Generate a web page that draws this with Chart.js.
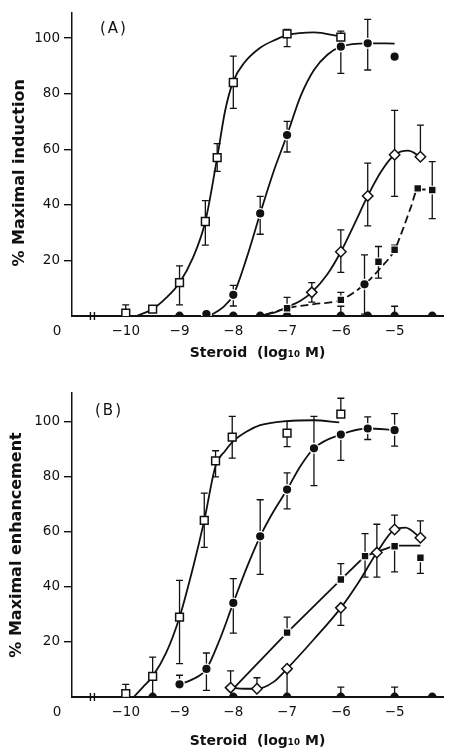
<!DOCTYPE html>
<html>
<head>
<meta charset="utf-8">
<script src="https://cdn.jsdelivr.net/npm/chart.js@4.4.1/dist/chart.umd.min.js"></script>
<style>
  html, body { margin: 0; padding: 0; background: #fff; }
  canvas { display: block; }
</style>
</head>
<body>
<canvas id="chartA" width="450" height="376"></canvas>
<canvas id="chartB" width="450" height="376"></canvas>
<script>
// axis ticks
const xTicks = [-10, -9, -8, -7, -6, -5];
const yTicks = [20, 40, 60, 80, 100];

// (A) induction - measured points, error bars as [low, high]
const aOpenSqX = [-10, -9.5, -9, -8.52, -8.3, -8, -7, -6];
const aOpenSqY = [1, 2.5, 12, 34, 57, 84, 101.5, 100.3];
const aOpenSqErr = [[1, 4], null, [4, 18], [25.5, 41.5], [52, 62], [74.7, 93.5], [96.9, 103.1], [100.3, 102.5]];

const aDotX = [-8.5, -8, -7.5, -7, -6, -5.5, -5];
const aDotY = [0.7, 7.6, 36.9, 65.1, 96.9, 98.1, 93.3];
const aDotErr = [null, [3.6, 11], [29.4, 43], [59, 70], [87.3, 96.9], [88.5, 106.7], null];

const aDiaX = [-6.54, -6, -5.5, -5, -4.52];
const aDiaY = [8.5, 23.1, 43.2, 58, 57.3];
const aDiaErr = [[5, 12], [15.7, 31], [32.4, 55], [43, 74], [57.3, 68.7]];

const aSqX = [-7, -6, -5.3, -5, -4.57, -4.3];
const aSqY = [2.8, 5.8, 19.5, 23.8, 45.9, 45.3];
const aSqErr = [[2.8, 6.7], [5.8, 8.5], [13.6, 25], [23.8, 25.5], null, [35, 55.5]];

const aDot2X = [-5.56];
const aDot2Y = [11.4];
const aDot2Err = [[0.7, 22]];

const aBaseX = [-9, -8, -7.5, -7, -6, -5.5, -5, -4.3];
const aBaseY = [0, 0, 0, 0, 0, 0, 0, 0];
const aBaseErr = [null, null, null, null, [0, 3.5], null, [0, 3.5], null];

// (A) fitted curves
const aOpenSqFitX = [-9.8, -9.5, -9.25, -9, -8.75, -8.52, -8.3, -8.15, -8, -7.8, -7.5, -7.2, -7, -6.5, -6];
const aOpenSqFitY = [0, 2.5, 6.5, 12, 21, 34, 57, 74, 84.5, 91, 96.5, 99.5, 101, 102, 100.5];
const aDotFitX = [-8.4, -8.2, -8, -7.75, -7.5, -7.25, -7, -6.75, -6.5, -6.25, -6, -5.5, -5];
const aDotFitY = [0.5, 3, 7.6, 21, 36.9, 52, 65.1, 79, 88.5, 94, 96.9, 98.1, 98];
const aDiaFitX = [-7.5, -7.2, -7, -6.75, -6.54, -6.25, -6, -5.75, -5.5, -5.25, -5, -4.75, -4.52];
const aDiaFitY = [0, 1.5, 3.2, 5.5, 8.5, 15, 23.1, 33, 43.2, 52, 58, 59.5, 57.3];
const aSqFitX = [-7.4, -7, -6.5, -6, -5.56, -5.25, -5, -4.85, -4.7, -4.57, -4.3];
const aSqFitY = [0.5, 2.8, 4.3, 5.8, 11.4, 17.5, 23.8, 31, 39, 45.5, 45.5];

// (B) enhancement - measured points
const bOpenSqX = [-10, -9.5, -9, -8.54, -8.33, -8.02, -7, -6];
const bOpenSqY = [1.2, 7.5, 29, 64.2, 85.8, 94.5, 95.9, 102.8];
const bOpenSqErr = [[1.2, 4.6], [0, 14.5], [12.1, 42.4], [54.4, 74.1], [80, 89.5], [86.8, 102], [91, 100.2], [102.8, 108.6]];

const bDotX = [-9, -8.5, -8, -7.5, -7, -6.5, -6, -5.5, -5];
const bDotY = [4.6, 10.2, 34.2, 58.4, 75.4, 90.4, 95.4, 97.6, 97];
const bDotErr = [[4.6, 7.9], [2.4, 16], [23.2, 43], [44.6, 71.7], [68.4, 81.5], [76.8, 102], [86, 95.4], [93.6, 101.8], [91.2, 103]];

const bSqX = [-7, -6, -5.55, -5, -4.52];
const bSqY = [23.4, 42.7, 51.2, 54.8, 50.6];
const bSqErr = [[23.4, 29], [42.7, 48.5], [43.6, 59.4], [45.5, 54.8], [44.9, 50.6]];

const bDiaX = [-8.05, -7.56, -7, -6, -5.33, -5, -4.52];
const bDiaY = [3.4, 3, 10.3, 32.4, 52.5, 60.9, 57.9];
const bDiaErr = [[3.4, 9.5], [3, 7], [0, 10.3], [26, 32.4], [43.6, 62.8], [60.9, 66.1], [57.9, 64]];

const bBaseX = [-9.5, -8, -7, -6, -5, -4.3];
const bBaseY = [0, 0, 0, 0, 0, 0];
const bBaseErr = [null, null, null, [0, 3.6], [0, 3.6], null];

// (B) fitted curves
const bOpenSqFitX = [-9.85, -9.68, -9.5, -9.25, -9, -8.75, -8.54, -8.33, -8.15, -8, -7.75, -7.5, -7, -6.5, -6.03];
const bOpenSqFitY = [0, 3.6, 7.5, 16, 29, 47, 64.2, 84, 89.5, 93, 96.5, 98.8, 100.3, 100.6, 99.8];
const bDotFitX = [-9, -8.75, -8.5, -8.25, -8, -7.75, -7.5, -7.25, -7, -6.75, -6.5, -6, -5.5, -5];
const bDotFitY = [4.6, 6.5, 10.2, 21, 34.2, 47, 58.4, 67.5, 75.4, 84, 90.4, 95.4, 97.6, 97];
const bSqFitX = [-8, -7, -6, -5.55, -5, -4.52];
const bSqFitY = [3, 23.4, 42.7, 51.2, 55, 55];
const bDiaFitX = [-8.05, -7.8, -7.56, -7.25, -7, -6.5, -6, -5.66, -5.33, -5, -4.8, -4.52];
const bDiaFitY = [3.4, 3, 3, 5.5, 10.3, 21, 32.4, 42, 52.5, 60.9, 61.6, 57.9];

const INK = '#111';
const breakAt = -10.62;

const pts = (xs, ys) => xs.map((x, i) => ({x: x, y: ys[i]}));

// marker styles
const openSq = {pointStyle: 'rect', pointRadius: 5.5, pointBackgroundColor: '#fff', pointBorderColor: INK, pointBorderWidth: 1.5};
const dot = {pointStyle: 'circle', pointRadius: 4.8, pointBackgroundColor: INK, pointBorderColor: '#fff', pointBorderWidth: 1.4};
const dia = {pointStyle: 'rectRot', pointRadius: 5.2, pointBackgroundColor: '#fff', pointBorderColor: INK, pointBorderWidth: 1.5};
const sq = {pointStyle: 'rect', pointRadius: 5.4, pointBackgroundColor: INK, pointBorderColor: '#fff', pointBorderWidth: 1.2};
const dome = {pointStyle: 'circle', pointRadius: 4.4, pointBackgroundColor: INK, pointBorderWidth: 0, clip: 0};

function marks(xs, ys, errs, style) {
  return Object.assign({data: pts(xs, ys), errors: errs, showLine: false, order: 1}, style);
}
function fit(xs, ys, extra) {
  return Object.assign({
    data: pts(xs, ys), showLine: true, pointRadius: 0, borderColor: INK,
    borderWidth: 1.8, cubicInterpolationMode: 'monotone', order: 2
  }, extra || {});
}

const errorBars = {
  id: 'errorBars',
  beforeDatasetsDraw(chart) {
    const {ctx, scales: {x, y}} = chart;
    ctx.save();
    ctx.strokeStyle = INK;
    ctx.lineWidth = 1.3;
    chart.data.datasets.forEach(ds => {
      if (!ds.errors) return;
      ds.errors.forEach((e, i) => {
        if (!e) return;
        const p = ds.data[i];
        const px = x.getPixelForValue(p.x);
        const lo = y.getPixelForValue(e[0]);
        const hi = y.getPixelForValue(e[1]);
        ctx.beginPath();
        ctx.moveTo(px, lo);
        ctx.lineTo(px, hi);
        if (e[1] !== p.y) { ctx.moveTo(px - 3.5, hi); ctx.lineTo(px + 3.5, hi); }
        if (e[0] !== p.y && e[0] !== 0) { ctx.moveTo(px - 3.5, lo); ctx.lineTo(px + 3.5, lo); }
        ctx.stroke();
      });
    });
    ctx.restore();
  }
};

function decor(label, lx, ly) {
  return {
    id: 'decor',
    afterDraw(chart) {
      const {ctx, scales: {x, y}} = chart;
      ctx.save();
      ctx.fillStyle = INK;
      ctx.font = '13.5px "DejaVu Sans"';
      ctx.textAlign = 'center';
      ctx.textBaseline = 'middle';
      ctx.fillText('0', 57, y.bottom + 15);
      // axis break
      const bx = x.getPixelForValue(breakAt);
      ctx.strokeStyle = INK;
      ctx.lineWidth = 1.4;
      ctx.beginPath();
      ctx.moveTo(bx - 2, y.bottom - 4); ctx.lineTo(bx - 2, y.bottom + 4);
      ctx.moveTo(bx + 2, y.bottom - 4); ctx.lineTo(bx + 2, y.bottom + 4);
      ctx.stroke();
      // panel label
      ctx.font = '15px "DejaVu Sans"';
      ctx.letterSpacing = '2px';
      ctx.textAlign = 'left';
      ctx.fillText(label, lx, ly);
      ctx.restore();
    }
  };
}

function makeChart(id, datasets, opts) {
  return new Chart(document.getElementById(id), {
    type: 'scatter',
    data: {datasets: datasets},
    options: {
      responsive: false,
      animation: false,
      events: [],
      layout: {padding: {top: opts.top, right: 0, left: 0, bottom: 0}},
      plugins: {legend: {display: false}, tooltip: {enabled: false}},
      scales: {
        x: {
          type: 'linear', min: -11, max: -4.1,
          afterBuildTicks: s => { s.ticks = xTicks.map(v => ({value: v})); },
          afterFit: s => { s.height = opts.xHeight; },
          grid: {drawOnChartArea: false, drawTicks: false},
          border: {color: INK, width: 2},
          ticks: {
            padding: 7, color: INK, maxRotation: 0, autoSkip: false,
            font: {family: '"DejaVu Sans"', size: 13.5},
            callback: v => '\u2212' + Math.abs(v)
          },
          title: {
            display: true, text: 'Steroid  (log\u2081\u2080 M)', color: INK,
            font: {family: '"DejaVu Sans"', size: 14, weight: 'bold'},
            padding: {top: 0, bottom: opts.xTitlePad}
          }
        },
        y: {
          min: 0, max: opts.yMax,
          afterBuildTicks: s => { s.ticks = yTicks.map(v => ({value: v})); },
          afterFit: s => { s.width = 72; },
          grid: {drawOnChartArea: false, drawTicks: true, tickLength: 8, color: INK, lineWidth: 1.4},
          border: {color: INK, width: 1.5},
          ticks: {padding: 4, color: INK, font: {family: '"DejaVu Sans"', size: 13.5}},
          title: {
            display: true, text: opts.yTitle, color: INK,
            font: {family: '"DejaVu Sans"', size: 16, weight: 'bold'},
            padding: {top: opts.yTitlePad}
          }
        }
      }
    },
    plugins: [errorBars, decor(opts.label, opts.lx, opts.ly)]
  });
}

makeChart('chartA', [
  marks(aOpenSqX, aOpenSqY, aOpenSqErr, openSq),
  marks(aDotX, aDotY, aDotErr, dot),
  marks(aDot2X, aDot2Y, aDot2Err, dot),
  marks(aDiaX, aDiaY, aDiaErr, dia),
  marks(aSqX, aSqY, aSqErr, sq),
  marks(aBaseX, aBaseY, aBaseErr, dome),
  fit(aOpenSqFitX, aOpenSqFitY),
  fit(aDotFitX, aDotFitY),
  fit(aDiaFitX, aDiaFitY),
  fit(aSqFitX, aSqFitY, {borderDash: [8, 4]})
], {top: 13, xHeight: 60, xTitlePad: 14.6, yMax: 109, yTitle: '% Maximal induction   ', yTitlePad: 10, label: '(A)', lx: 100, ly: 29});

makeChart('chartB', [
  marks(bOpenSqX, bOpenSqY, bOpenSqErr, openSq),
  marks(bDotX, bDotY, bDotErr, dot),
  marks(bDiaX, bDiaY, bDiaErr, dia),
  marks(bSqX, bSqY, bSqErr, sq),
  marks(bBaseX, bBaseY, bBaseErr, dome),
  fit(bOpenSqFitX, bOpenSqFitY),
  fit(bDotFitX, bDotFitY),
  fit(bDiaFitX, bDiaFitY),
  fit(bSqFitX, bSqFitY, {cubicInterpolationMode: 'default', tension: 0})
], {top: 17, xHeight: 55, xTitlePad: 2, yMax: 110.5, yTitle: '% Maximal enhancement', yTitlePad: 7.5, label: '(B)', lx: 95, ly: 35});
</script>
</body>
</html>
